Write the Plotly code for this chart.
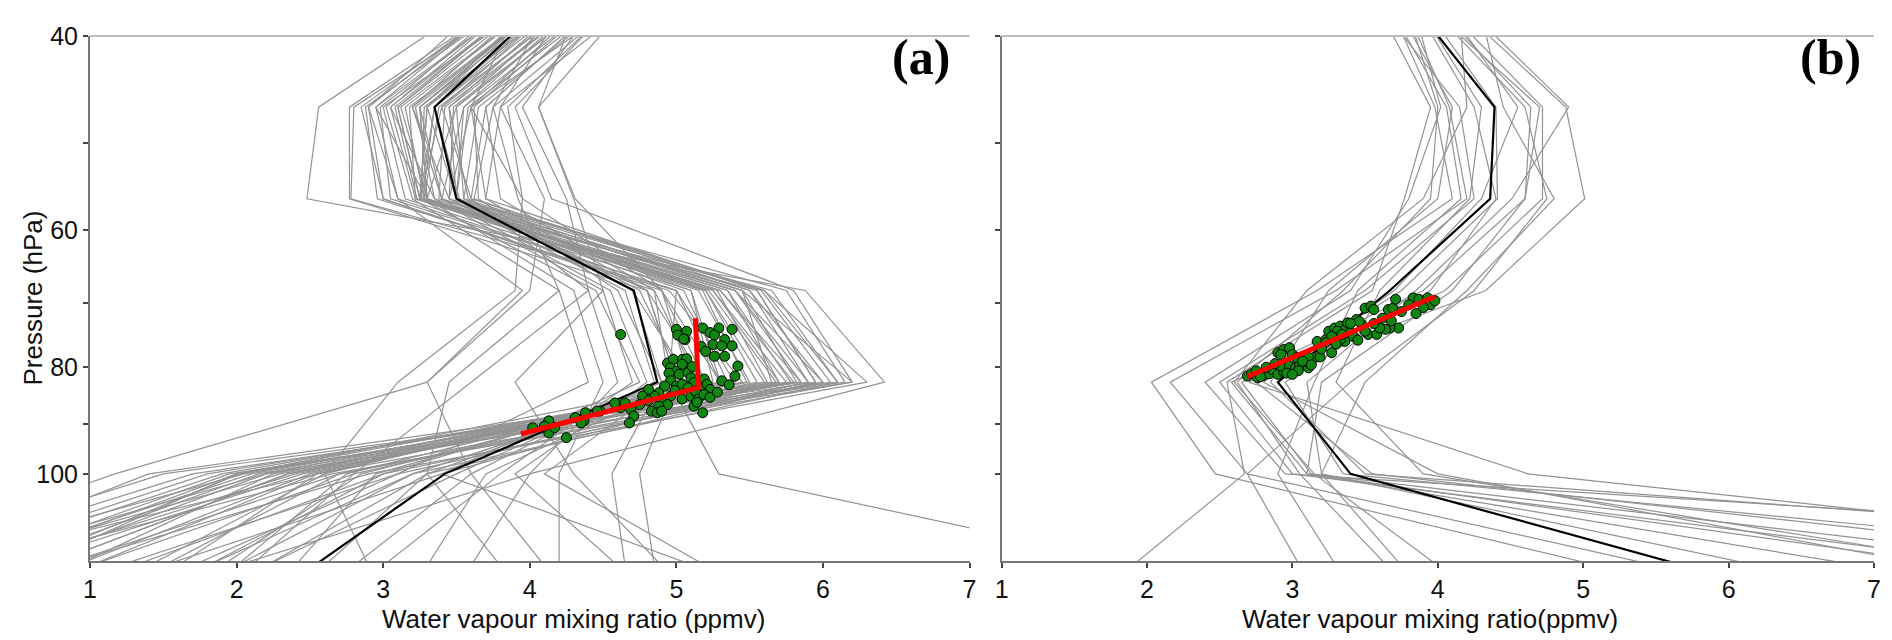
import plotly.graph_objects as go

# MLS-like pressure levels (hPa)
levels = [38.31, 46.42, 56.23, 68.13, 82.54, 100.0, 121.15]

# Panel (a): individual profiles (ppmv) at the levels above
profiles_a = [
    [4.10, 3.30, 3.25, 5.30, 5.80, 2.40, 0.40],
    [3.90, 3.10, 3.25, 5.20, 5.60, 2.10, 0.20],
    [4.30, 3.50, 3.30, 5.40, 5.90, 2.70, 0.80],
    [3.80, 2.95, 3.10, 5.00, 5.40, 2.20, 0.50],
    [4.50, 3.60, 3.45, 5.50, 6.00, 3.00, 1.30],
    [4.00, 3.20, 3.40, 5.10, 5.30, 2.50, 0.90],
    [4.20, 3.40, 3.25, 5.35, 5.70, 2.30, 0.10],
    [3.70, 2.90, 3.00, 4.90, 5.20, 2.60, 1.40],
    [4.40, 3.70, 3.60, 5.60, 6.10, 3.20, 1.80],
    [3.95, 3.15, 3.28, 5.25, 5.75, 2.05, -0.20],
    [4.25, 3.45, 3.50, 5.45, 5.65, 2.80, 1.00],
    [3.85, 3.05, 3.22, 5.15, 5.50, 1.90, 0.00],
    [4.60, 3.80, 3.70, 5.55, 5.95, 3.30, 2.20],
    [4.05, 3.25, 3.30, 5.05, 5.35, 2.55, 1.60],
    [3.75, 2.88, 2.96, 4.95, 5.45, 2.35, 0.70],
    [4.15, 3.35, 3.25, 5.30, 5.85, 2.00, 0.60],
    [4.35, 3.55, 3.40, 5.45, 6.20, 2.65, 0.30],
    [3.90, 3.00, 3.15, 5.10, 5.25, 2.75, 2.00],
    [4.45, 3.65, 3.55, 5.60, 6.30, 2.90, 0.80],
    [4.00, 3.22, 3.35, 5.20, 5.55, 2.45, 0.50],
    [4.20, 3.38, 3.28, 5.35, 5.78, 2.15, 0.40],
    [3.80, 2.98, 3.05, 5.00, 5.30, 2.85, 1.90],
    [4.50, 3.75, 3.62, 5.50, 5.90, 3.10, 1.20],
    [4.10, 3.28, 3.26, 5.28, 5.62, 2.25, 0.90],
    [3.70, 2.85, 3.00, 4.85, 5.15, 2.95, 2.40],
    [4.30, 3.48, 3.45, 5.40, 6.00, 2.55, 0.00],
    [4.00, 3.18, 3.22, 5.18, 5.48, 2.00, 0.30],
    [4.40, 3.58, 3.50, 5.58, 6.05, 2.70, 1.50],
    [3.95, 3.12, 3.30, 5.22, 5.68, 1.80, -0.10],
    [4.25, 3.42, 3.38, 5.45, 5.82, 2.35, 0.70],
    [4.00, 3.30, 3.50, 4.70, 4.90, 3.50, 2.20],
    [3.80, 3.05, 3.35, 4.50, 4.70, 3.80, 3.00],
    [4.30, 3.60, 3.70, 4.80, 5.00, 3.30, 2.60],
    [4.10, 3.40, 3.60, 4.40, 4.60, 4.00, 3.60],
    [3.90, 3.20, 3.45, 4.65, 4.85, 3.60, 2.80],
    [4.50, 3.85, 3.95, 4.90, 5.10, 3.20, 2.00],
    [3.70, 2.95, 3.30, 4.30, 4.50, 4.20, 4.20],
    [4.20, 3.50, 3.55, 4.75, 5.05, 3.70, 3.30],
    [4.00, 3.25, 3.40, 4.55, 4.80, 3.90, 4.60],
    [4.40, 3.70, 3.80, 4.85, 4.95, 4.10, 5.20],
    [3.85, 3.10, 3.25, 4.45, 4.75, 3.40, 1.50],
    [4.35, 3.62, 3.65, 4.60, 4.90, 4.56, 4.65],
    [4.05, 3.35, 3.52, 4.80, 5.00, 4.75, 4.85],
    [3.75, 3.02, 3.20, 4.20, 4.40, 3.10, 1.70],
    [4.15, 3.45, 3.58, 4.70, 5.10, 3.00, 1.80],
    [4.20, 3.80, 4.10, 4.00, 3.30, 3.60, 4.10],
    [4.40, 3.95, 4.25, 4.40, 3.60, 2.80, 2.10],
    [3.90, 3.60, 3.95, 3.90, 3.10, 2.60, 2.90],
    [4.60, 4.06, 4.30, 4.50, 3.90, 4.30, 4.90],
    [4.10, 3.75, 3.92, 4.20, 3.45, 3.30, 3.80],
    [3.50, 2.56, 2.48, 5.88, 6.42, 4.00, 2.00],
    [3.70, 2.77, 2.77, 4.80, 5.20, 2.02, 0.50],
    [3.75, 2.80, 2.78, 5.00, 4.95, 5.29, 8.20],
    [4.30, 4.06, 4.31, 4.90, 5.30, 2.54, 1.00],
    [4.50, 3.90, 4.15, 5.80, 6.20, 2.20, 0.00],
    [3.95, 3.30, 3.25, 5.65, 6.10, 1.50, -0.50],
    [4.10, 3.35, 3.27, 5.55, 5.95, 1.70, -0.30],
    [3.85, 3.08, 3.23, 5.40, 5.85, 1.40, -0.20],
    [4.25, 3.55, 3.50, 5.75, 6.15, 1.95, 0.20],
    [4.00, 3.25, 3.30, 5.25, 5.70, 3.40, 5.12],
    [3.60, 2.90, 3.10, 3.95, 3.30, 1.17, -0.60],
]
mean_a = [4.02, 3.35, 3.50, 4.71, 4.87, 3.42, 2.53]

# Panel (b): individual profiles
profiles_b = [
    [3.70, 3.98, 4.10, 3.17, 2.03, 2.47, 5.10],
    [3.80, 4.08, 4.20, 3.30, 2.16, 2.69, 5.50],
    [3.85, 4.02, 3.80, 3.40, 2.40, 2.95, 13.0],
    [3.62, 3.95, 3.77, 3.55, 2.55, 2.67, 1.90],
    [4.05, 4.64, 4.60, 3.90, 2.58, 3.10, 7.60],
    [4.20, 4.88, 5.01, 4.33, 2.65, 3.13, 8.50],
    [4.10, 4.72, 4.72, 4.05, 2.70, 4.62, 10.5],
    [3.95, 4.40, 4.41, 3.75, 2.75, 3.55, 9.20],
    [4.25, 4.90, 4.51, 3.85, 3.10, 3.20, 6.20],
    [3.70, 4.06, 4.16, 3.45, 3.15, 2.90, 3.30],
    [3.90, 4.30, 4.22, 3.60, 3.30, 3.90, 7.80],
    [4.30, 4.45, 4.80, 4.20, 3.50, 3.20, 3.75],
    [4.15, 4.20, 3.90, 3.10, 2.60, 3.15, 4.00],
    [3.75, 4.10, 4.00, 3.25, 2.85, 3.50, 12.0],
    [4.00, 4.70, 4.60, 4.10, 3.20, 3.10, 6.90],
    [3.88, 4.25, 4.40, 3.95, 2.95, 3.35, 9.80],
    [4.10, 4.55, 4.30, 3.70, 2.80, 4.00, 7.40],
    [3.80, 4.00, 3.95, 3.35, 2.62, 3.05, 3.65],
    [4.00, 4.60, 4.75, 4.25, 3.40, 2.69, 3.05],
    [3.65, 4.15, 4.25, 3.50, 2.50, 3.00, 8.00],
]
mean_b = [3.89, 4.39, 4.36, 3.67, 2.90, 3.40, 5.69]

# Green scatter points (x = mixing ratio, p = pressure)
scatter_a_x = [4.62, 5.00, 5.04, 5.07, 5.18, 5.23, 5.29, 5.38, 5.26, 5.33, 5.06, 5.17, 5.25, 5.31,
               5.38, 5.20, 5.26, 5.33, 5.42, 5.40, 5.31, 4.94, 4.98, 5.04, 5.07, 4.96, 5.00, 5.04,
               5.02, 5.08, 4.95, 4.96, 5.10, 5.12, 5.17, 5.19, 5.21, 5.23, 5.00, 5.04, 5.08, 4.92,
               4.88, 4.85, 4.90, 4.96, 5.04, 5.10, 5.13, 5.15, 5.19, 5.23, 5.12, 5.18, 4.94, 4.88,
               4.81, 4.77, 4.81, 4.75, 4.69, 4.71, 4.68, 4.83, 4.87, 4.90, 4.62, 4.58, 4.65, 4.48,
               4.38, 4.37, 4.46, 4.31, 4.25, 4.13, 4.13, 4.02, 4.10, 4.17, 4.35, 5.01, 5.05, 5.28,
               5.36, 5.14, 4.99, 5.11]
scatter_a_p = [74.7, 73.9, 75.0, 74.2, 73.7, 74.4, 73.7, 73.9, 74.8, 75.5, 75.5, 76.6, 76.3, 76.5,
               76.5, 77.4, 78.2, 78.2, 79.8, 81.5, 82.3, 79.3, 78.7, 78.7, 78.6, 80.1, 80.7, 79.5,
               81.2, 80.9, 81.0, 82.3, 81.8, 82.6, 83.2, 82.0, 82.9, 83.8, 83.2, 82.9, 83.5, 83.2,
               84.4, 85.0, 85.8, 85.0, 85.5, 85.0, 84.1, 85.5, 84.7, 85.2, 86.8, 88.0, 86.5, 86.8,
               83.8, 85.0, 85.8, 86.5, 87.4, 88.6, 89.9, 87.7, 88.0, 87.7, 87.1, 86.2, 86.2, 87.7,
               88.0, 89.5, 87.7, 88.9, 92.7, 89.5, 91.8, 90.8, 90.5, 90.8, 89.9, 74.8, 75.4, 84.3,
               83.0, 86.1, 84.0, 79.9]

scatter_b_x = [2.69, 2.72, 2.76, 2.80, 2.84, 2.86, 2.90, 2.94, 2.92, 2.98, 3.02, 3.05, 3.11, 3.09,
               3.15, 3.19, 2.90, 2.94, 2.98, 2.92, 3.00, 3.03, 3.27, 3.17, 3.23, 3.25, 3.29, 3.33,
               3.36, 3.40, 3.44, 3.48, 3.52, 3.58, 3.36, 3.42, 3.50, 3.54, 3.56, 3.66, 3.69, 3.71,
               3.83, 3.87, 3.93, 3.95, 3.98, 3.73, 3.67, 3.64, 3.60, 3.33, 3.31, 3.34, 3.27, 3.46,
               3.38, 3.23, 3.11, 3.07, 2.75, 2.82, 2.88, 2.96, 3.04, 2.78, 3.00, 3.13, 3.20, 3.30,
               3.45, 3.56, 3.62, 3.75, 3.80, 3.90, 3.85, 3.68, 3.50, 3.40]
scatter_b_p = [81.5, 81.1, 81.8, 81.4, 81.1, 80.4, 81.2, 80.8, 79.8, 79.8, 80.1, 79.6, 80.1, 79.0,
               78.4, 78.3, 77.6, 77.1, 76.8, 77.9, 77.9, 78.4, 77.6, 75.8, 75.5, 74.2, 73.7, 73.4,
               73.9, 74.4, 72.4, 73.2, 74.7, 74.7, 75.8, 75.0, 70.7, 70.4, 70.9, 70.9, 70.7, 69.4,
               69.2, 69.4, 69.2, 70.2, 69.6, 73.7, 73.7, 73.9, 73.7, 75.5, 74.2, 74.7, 75.0, 72.7,
               72.9, 76.0, 78.4, 79.0, 80.6, 80.0, 79.4, 81.0, 80.6, 81.6, 81.2, 79.6, 77.0, 76.2,
               75.6, 73.0, 72.2, 71.2, 70.2, 70.6, 71.5, 72.6, 74.2, 73.0]

# Red fitted lines
fit_a_x = [3.94, 5.15, 5.13]
fit_a_p = [92.0, 83.5, 72.2]
fit_b_x = [2.69, 3.98]
fit_b_p = [81.6, 69.0]

x_ticks = [1, 2, 3, 4, 5, 6, 7]
y_tickvals = [40, 50, 60, 70, 80, 90, 100]
y_ticktext = ["40", "", "60", "", "80", "", "100"]

GRAY = "#939393"
fig = go.Figure()

def add_panel(profiles, mean, sx, sp, fx, fp, xa, ya):
    for prof in profiles:
        fig.add_trace(go.Scatter(x=prof, y=levels, mode="lines",
                                 line=dict(color=GRAY, width=1.2),
                                 xaxis=xa, yaxis=ya, showlegend=False, hoverinfo="skip"))
    fig.add_trace(go.Scatter(x=mean, y=levels, mode="lines",
                             line=dict(color="black", width=2.2),
                             xaxis=xa, yaxis=ya, showlegend=False))
    fig.add_trace(go.Scatter(x=sx, y=sp, mode="markers",
                             marker=dict(color="#118511", size=10,
                                         line=dict(color="black", width=1)),
                             xaxis=xa, yaxis=ya, showlegend=False))
    fig.add_trace(go.Scatter(x=fx, y=fp, mode="lines",
                             line=dict(color="#ff0000", width=5),
                             xaxis=xa, yaxis=ya, showlegend=False))

add_panel(profiles_a, mean_a, scatter_a_x, scatter_a_p, fit_a_x, fit_a_p, "x", "y")
add_panel(profiles_b, mean_b, scatter_b_x, scatter_b_p, fit_b_x, fit_b_p, "x2", "y2")

SANS = "Liberation Sans, Arial, sans-serif"
tickfont = dict(family=SANS, size=25, color="#111")
xcommon = dict(range=[1, 7], tickvals=x_ticks, ticks="outside", ticklen=5, tickwidth=1.5,
               tickcolor="#444", showline=True, linecolor="#777", linewidth=2,
               showgrid=False, zeroline=False, tickfont=tickfont)
ycommon = dict(type="log", range=[2.0792, 1.60206], tickvals=y_tickvals, ticktext=y_ticktext,
               ticks="outside", ticklen=5, tickwidth=1.5, tickcolor="#444",
               showline=True, linecolor="#777", linewidth=2, showgrid=False,
               zeroline=False, tickfont=tickfont)

W_PLOT = 1892 - 82 - 26
fig.update_layout(
    width=1892, height=640,
    margin=dict(l=82, r=26, t=28, b=87),
    paper_bgcolor="white", plot_bgcolor="white",
    xaxis=dict(domain=[0, 0.493], anchor="y", **xcommon),
    yaxis=dict(domain=[0, 1], anchor="x", **ycommon),
    xaxis2=dict(domain=[0.511, 1], anchor="y2", **xcommon),
    yaxis2=dict(domain=[0, 1], anchor="x2", showticklabels=False, **ycommon),
)

# top frame lines
for xr, yr in (("x domain", "y domain"), ("x2 domain", "y2 domain")):
    fig.add_shape(type="line", xref=xr, yref=yr, x0=0, x1=1, y0=1, y1=1,
                  line=dict(color="#bdbdbd", width=2))

titlefont = dict(family=SANS, size=26, color="#111")
fig.add_annotation(text="Pressure (hPa)", xref="paper", yref="paper",
                   x=(24 - 82) / W_PLOT, y=0.5, textangle=-90, showarrow=False,
                   font=titlefont, xanchor="center", yanchor="middle")
fig.add_annotation(text="Water vapour mixing ratio (ppmv)", xref="paper", yref="paper",
                   x=(565 - 82) / W_PLOT, y=-0.11, showarrow=False, font=titlefont,
                   xanchor="center", yanchor="middle")
fig.add_annotation(text="Water vapour mixing ratio(ppmv)", xref="paper", yref="paper",
                   x=(1422 - 82) / W_PLOT, y=-0.11, showarrow=False, font=titlefont,
                   xanchor="center", yanchor="middle")

labfont = dict(family="Liberation Serif, Times New Roman, serif", size=50, color="black")
fig.add_annotation(text="<b>(a)</b>", xref="x domain", yref="y domain", x=0.945, y=0.96,
                   showarrow=False, font=labfont, xanchor="center", yanchor="middle")
fig.add_annotation(text="<b>(b)</b>", xref="x2 domain", yref="y2 domain", x=0.95, y=0.96,
                   showarrow=False, font=labfont, xanchor="center", yanchor="middle")

fig.write_html("out.html")
